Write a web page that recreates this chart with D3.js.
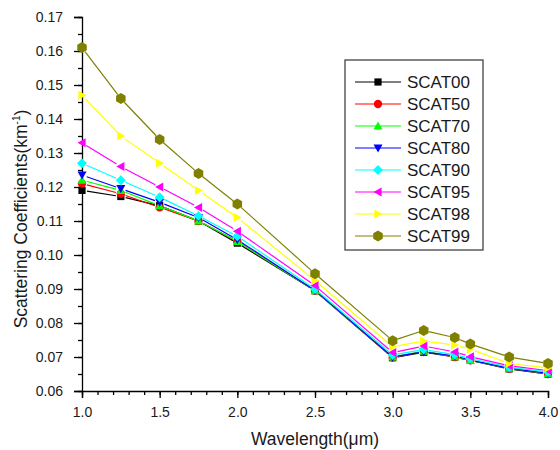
<!DOCTYPE html>
<html>
<head>
<meta charset="utf-8">
<script src="https://cdn.jsdelivr.net/npm/d3@7"></script>
<style>
  body { margin: 0; background: #fff; }
  svg text { font-family: "Liberation Sans", Arial, sans-serif; fill: #1a1a1a; }
</style>
</head>
<body>
<div id="viz"></div>
<script>
// wavelengths (um)
var wavelength = [1.0, 1.25, 1.5, 1.75, 2.0, 2.5, 3.0, 3.2, 3.4, 3.5, 3.75, 4.0];

var names = ['SCAT00','SCAT50','SCAT70','SCAT80','SCAT90','SCAT95','SCAT98','SCAT99'];
var colors = ['#000000','#ff0000','#00ff00','#0000ff','#00ffff','#ff00ff','#ffff00','#808000'];
var symbols = ['square','circle','triUp','triDown','diamond','triLeft','triRight','hexagon'];

var scat00 = [0.1190, 0.1172, 0.1145, 0.1100, 0.1035, 0.0895, 0.0698, 0.0714, 0.0700, 0.0690, 0.0665, 0.0650];
var scat50 = [0.1210, 0.1180, 0.1140, 0.1100, 0.1040, 0.0895, 0.0698, 0.0716, 0.0700, 0.0690, 0.0666, 0.0650];
var scat70 = [0.1220, 0.1190, 0.1145, 0.1100, 0.1040, 0.0895, 0.0700, 0.0717, 0.0701, 0.0690, 0.0667, 0.0651];
var scat80 = [0.1235, 0.1195, 0.1155, 0.1110, 0.1045, 0.0896, 0.0700, 0.0715, 0.0703, 0.0691, 0.0667, 0.0652];
var scat90 = [0.1270, 0.1220, 0.1170, 0.1115, 0.1055, 0.0900, 0.0706, 0.0722, 0.0707, 0.0695, 0.0670, 0.0656];
var scat95 = [0.1330, 0.1260, 0.1200, 0.1140, 0.1070, 0.0910, 0.0713, 0.0732, 0.0715, 0.0701, 0.0674, 0.0660];
var scat98 = [0.1470, 0.1350, 0.1270, 0.1190, 0.1110, 0.0925, 0.0730, 0.0747, 0.0735, 0.0723, 0.0681, 0.0668];
var scat99 = [0.1610, 0.1460, 0.1340, 0.1240, 0.1150, 0.0945, 0.0748, 0.0778, 0.0757, 0.0738, 0.0700, 0.0681];
var series = [scat00, scat50, scat70, scat80, scat90, scat95, scat98, scat99];

var xTicks = [1.0, 1.5, 2.0, 2.5, 3.0, 3.5, 4.0];
var yTicks = [0.06, 0.07, 0.08, 0.09, 0.10, 0.11, 0.12, 0.13, 0.14, 0.15, 0.16, 0.17];

var width = 560, height = 450;
var margin = {left: 82, right: 12, top: 17, bottom: 59};

var svg = d3.select('#viz').append('svg')
  .attr('width', width)
  .attr('height', height);

var x = d3.scaleLinear().domain([1.0, 4.0]).range([margin.left, width - margin.right]);
var y = d3.scaleLinear().domain([0.06, 0.17]).range([height - margin.bottom, margin.top]);

// minor ticks
svg.append('g')
  .attr('transform', 'translate(0,' + (height - margin.bottom) + ')')
  .call(d3.axisBottom(x).tickValues(d3.range(1.0, 4.001, 0.1)).tickSize(4).tickFormat(''))
  .call(function(g){ g.select('.domain').remove(); });
svg.append('g')
  .attr('transform', 'translate(' + margin.left + ',0)')
  .call(d3.axisLeft(y).tickValues(d3.range(0.06, 0.1701, 0.005)).tickSize(4).tickFormat(''))
  .call(function(g){ g.select('.domain').remove(); });

// major ticks
svg.append('g')
  .attr('transform', 'translate(0,' + (height - margin.bottom) + ')')
  .call(d3.axisBottom(x).tickValues(xTicks).tickSize(7).tickPadding(9).tickFormat(d3.format('.1f')));
svg.append('g')
  .attr('transform', 'translate(' + margin.left + ',0)')
  .call(d3.axisLeft(y).tickValues(yTicks).tickSize(8).tickPadding(11).tickFormat(d3.format('.2f')));

svg.selectAll('.tick text').style('font-size', '14px').style('font-family', '"Liberation Sans", Arial, sans-serif').attr('fill', '#1a1a1a');
svg.selectAll('.domain, .tick line').attr('stroke', '#000').attr('stroke-width', 1.3);

// axis titles
svg.append('text')
  .attr('x', (margin.left + width - margin.right) / 2)
  .attr('y', 445)
  .attr('text-anchor', 'middle')
  .style('font-size', '17.5px')
  .text('Wavelength(\u03bcm)');

var yt = svg.append('text')
  .attr('transform', 'translate(27,219) rotate(-90)')
  .attr('text-anchor', 'middle')
  .style('font-size', '17.5px');
yt.append('tspan').text('Scattering Coefficients(km');
yt.append('tspan').attr('dy', -7).style('font-size', '10px').text('-1');
yt.append('tspan').attr('dy', 7).text(')');

function markerPath(type, s) {
  // s = half size
  if (type == 'square') return 'M' + (-s*0.8) + ',' + (-s*0.8) + 'h' + (s*1.6) + 'v' + (s*1.6) + 'h' + (-s*1.6) + 'z';
  if (type == 'circle') return d3.symbol().type(d3.symbolCircle).size(Math.PI * s * s * 0.85)();
  if (type == 'triUp') return 'M0,' + (-s) + 'L' + s + ',' + (s*0.8) + 'L' + (-s) + ',' + (s*0.8) + 'Z';
  if (type == 'triDown') return 'M0,' + s + 'L' + s + ',' + (-s*0.8) + 'L' + (-s) + ',' + (-s*0.8) + 'Z';
  if (type == 'triLeft') return 'M' + (-s) + ',0L' + (s*0.8) + ',' + (-s) + 'L' + (s*0.8) + ',' + s + 'Z';
  if (type == 'triRight') return 'M' + s + ',0L' + (-s*0.8) + ',' + (-s) + 'L' + (-s*0.8) + ',' + s + 'Z';
  if (type == 'diamond') return 'M0,' + (-s*1.1) + 'L' + (s*1.1) + ',0L0,' + (s*1.1) + 'L' + (-s*1.1) + ',0Z';
  if (type == 'hexagon') {
    var pts = [];
    for (var k = 0; k < 6; k++) {
      var a = Math.PI / 6 + k * Math.PI / 3;
      pts.push([Math.cos(a) * s * 1.1, Math.sin(a) * s * 1.1]);
    }
    return 'M' + pts.join('L') + 'Z';
  }
}

var gap = 5;

for (var j = 0; j < series.length; j++) {
  var vals = series[j];
  var pts = wavelength.map(function(w, i){ return [x(w), y(vals[i])]; });
  var segs = [];
  for (var i = 0; i < pts.length - 1; i++) {
    var dx = pts[i+1][0] - pts[i][0], dy = pts[i+1][1] - pts[i][1];
    var len = Math.sqrt(dx*dx + dy*dy);
    var ux = dx / len, uy = dy / len;
    segs.push([[pts[i][0] + ux*gap, pts[i][1] + uy*gap], [pts[i+1][0] - ux*gap, pts[i+1][1] - uy*gap]]);
  }
  svg.selectAll('.seg' + j)
    .data(segs)
  .enter().append('line')
    .attr('x1', function(d){ return d[0][0]; })
    .attr('y1', function(d){ return d[0][1]; })
    .attr('x2', function(d){ return d[1][0]; })
    .attr('y2', function(d){ return d[1][1]; })
    .attr('stroke', colors[j])
    .attr('stroke-width', 1.2);

  svg.selectAll('.mark' + j)
    .data(vals)
  .enter().append('path')
    .attr('transform', function(d, i){ return 'translate(' + x(wavelength[i]) + ',' + y(d) + ')'; })
    .attr('d', markerPath(symbols[j], j == 7 ? 5 : 4.5))
    .attr('fill', colors[j]);
}

// legend
var legend = svg.append('g');
legend.append('rect')
  .attr('x', 345).attr('y', 60)
  .attr('width', 138).attr('height', 190)
  .attr('fill', '#fff')
  .attr('stroke', '#333')
  .attr('stroke-width', 1.2);

var rows = legend.selectAll('.row')
  .data(names)
.enter().append('g')
  .attr('transform', function(d, i){ return 'translate(0,' + (82 + i*22) + ')'; });

rows.append('line')
  .attr('x1', 355).attr('x2', 401)
  .attr('y1', 0).attr('y2', 0)
  .attr('stroke', function(d, i){ return colors[i]; })
  .attr('stroke-width', 1.2);
rows.append('path')
  .attr('transform', 'translate(378,0)')
  .attr('d', function(d, i){ return markerPath(symbols[i], i == 7 ? 5 : 4.5); })
  .attr('fill', function(d, i){ return colors[i]; });
rows.append('text')
  .attr('x', 407).attr('y', 6)
  .style('font-size', '17px')
  .text(function(d){ return d; });
</script>
</body>
</html>
